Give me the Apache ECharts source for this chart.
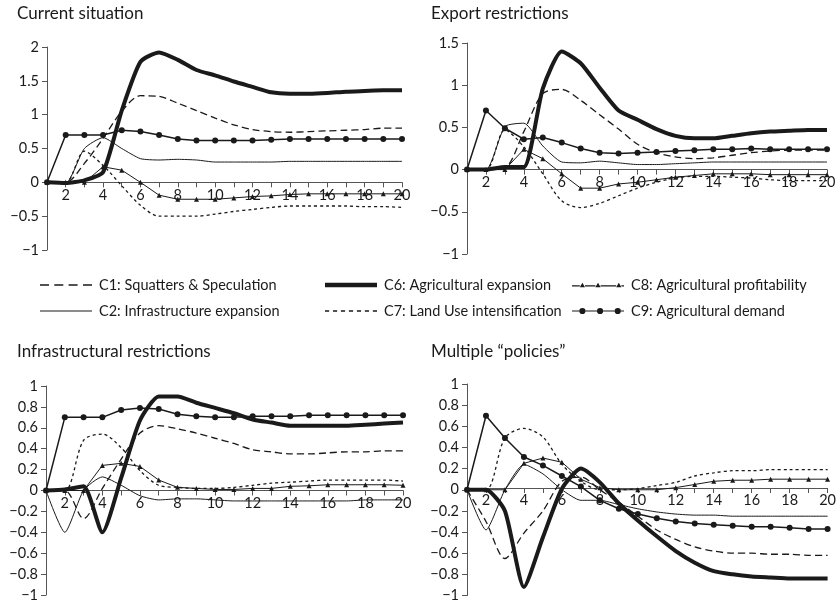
<!DOCTYPE html>
<html>
<head>
<meta charset="utf-8">
<script src="https://cdn.jsdelivr.net/npm/echarts@6/dist/echarts.min.js"></script>
<style>
  html, body { margin: 0; background: #fff; }
  #chart { width: 839px; height: 603px; }
</style>
</head>
<body>
<div id="chart"></div>
<script>
// time steps on the x axis
const steps = ['1', '2', '3', '4', '5', '6', '7', '8', '9', '10',
  '11', '12', '13', '14', '15', '16', '17', '18', '19', '20'];

// Current situation
const curC1 = [0, 0, 0.28, 0.65, 1.05, 1.28, 1.27, 1.17, 1.06, 0.95, 0.85, 0.78, 0.75, 0.74, 0.75, 0.76, 0.77, 0.78, 0.8, 0.8];
const curC2 = [0, -0.01, 0.5, 0.66, 0.5, 0.35, 0.33, 0.34, 0.33, 0.3, 0.3, 0.3, 0.3, 0.31, 0.31, 0.31, 0.31, 0.31, 0.31, 0.31];
const curC6 = [0, -0.01, 0.03, 0.15, 1.06, 1.78, 1.92, 1.81, 1.66, 1.58, 1.49, 1.41, 1.33, 1.31, 1.31, 1.32, 1.34, 1.35, 1.36, 1.36];
const curC7 = [0, 0, 0.46, 0.25, -0.05, -0.34, -0.5, -0.5, -0.5, -0.47, -0.43, -0.4, -0.37, -0.35, -0.35, -0.35, -0.35, -0.36, -0.36, -0.37];
const curC8 = [0, 0, 0, 0.23, 0.18, 0, -0.19, -0.25, -0.25, -0.25, -0.23, -0.21, -0.2, -0.18, -0.17, -0.17, -0.17, -0.17, -0.17, -0.17];
const curC9 = [0, 0.7, 0.7, 0.7, 0.77, 0.75, 0.7, 0.64, 0.62, 0.62, 0.62, 0.62, 0.63, 0.64, 0.64, 0.64, 0.64, 0.64, 0.64, 0.64];

// Export restrictions
const expC1 = [0, 0, 0.02, 0.45, 0.9, 0.95, 0.82, 0.65, 0.48, 0.3, 0.2, 0.15, 0.13, 0.14, 0.17, 0.2, 0.22, 0.23, 0.23, 0.23];
const expC2 = [0, 0, 0.51, 0.55, 0.28, 0.09, 0.08, 0.1, 0.08, 0.06, 0.06, 0.07, 0.08, 0.09, 0.09, 0.09, 0.09, 0.09, 0.09, 0.09];
const expC6 = [0, 0, 0.03, 0.03, 0.96, 1.4, 1.26, 0.97, 0.7, 0.59, 0.48, 0.4, 0.37, 0.37, 0.4, 0.43, 0.45, 0.46, 0.47, 0.47];
const expC7 = [0, 0, 0.47, 0.27, -0.05, -0.37, -0.45, -0.4, -0.31, -0.22, -0.15, -0.1, -0.08, -0.08, -0.09, -0.1, -0.12, -0.13, -0.13, -0.13];
const expC8 = [0, 0, 0, 0.24, 0.13, -0.05, -0.22, -0.22, -0.17, -0.15, -0.12, -0.09, -0.07, -0.05, -0.05, -0.05, -0.06, -0.06, -0.06, -0.06];
const expC9 = [0, 0.7, 0.49, 0.36, 0.38, 0.32, 0.25, 0.2, 0.19, 0.2, 0.21, 0.22, 0.23, 0.24, 0.24, 0.25, 0.24, 0.24, 0.24, 0.24];

// Infrastructural restrictions
const infC1 = [0, 0, -0.27, 0.02, 0.3, 0.55, 0.62, 0.59, 0.55, 0.5, 0.45, 0.39, 0.37, 0.35, 0.35, 0.36, 0.37, 0.37, 0.38, 0.38];
const infC2 = [0, -0.4, 0, 0.13, 0.05, -0.05, -0.09, -0.08, -0.08, -0.09, -0.1, -0.1, -0.1, -0.1, -0.1, -0.1, -0.1, -0.09, -0.09, -0.09];
const infC6 = [0, 0.01, 0.04, -0.4, 0.12, 0.67, 0.9, 0.9, 0.84, 0.79, 0.74, 0.68, 0.65, 0.62, 0.62, 0.62, 0.62, 0.63, 0.64, 0.65];
const infC7 = [0, 0, 0.48, 0.54, 0.41, 0.19, 0.05, 0.03, 0.02, 0.02, 0.03, 0.05, 0.07, 0.08, 0.09, 0.1, 0.1, 0.1, 0.1, 0.09];
const infC8 = [0, 0, 0, 0.24, 0.26, 0.23, 0.1, 0.03, 0.02, 0.01, 0.01, 0.02, 0.02, 0.04, 0.045, 0.055, 0.055, 0.055, 0.055, 0.05];
const infC9 = [0, 0.7, 0.7, 0.7, 0.77, 0.79, 0.78, 0.73, 0.71, 0.7, 0.7, 0.71, 0.71, 0.71, 0.72, 0.72, 0.72, 0.72, 0.72, 0.72];

// Multiple "policies"
const mulC1 = [0, -0.3, -0.65, -0.41, -0.2, 0.08, 0.12, 0, -0.12, -0.25, -0.38, -0.47, -0.54, -0.58, -0.6, -0.6, -0.61, -0.61, -0.62, -0.62];
const mulC2 = [0, -0.38, 0, 0.24, 0.15, 0, -0.1, -0.1, -0.14, -0.18, -0.21, -0.23, -0.24, -0.24, -0.25, -0.25, -0.25, -0.25, -0.25, -0.25];
const mulC6 = [0, 0, -0.2, -0.92, -0.45, 0.01, 0.2, 0.07, -0.13, -0.29, -0.44, -0.58, -0.69, -0.77, -0.8, -0.82, -0.83, -0.84, -0.84, -0.84];
const mulC7 = [0, 0, 0.49, 0.58, 0.5, 0.24, 0.08, 0, 0, 0.01, 0.04, 0.07, 0.13, 0.16, 0.18, 0.18, 0.19, 0.19, 0.19, 0.19];
const mulC8 = [0, 0, 0, 0.25, 0.3, 0.26, 0.1, 0.02, 0, 0, 0, 0.02, 0.05, 0.08, 0.09, 0.09, 0.1, 0.1, 0.1, 0.1];
const mulC9 = [0, 0.7, 0.49, 0.31, 0.23, 0.13, 0.03, -0.1, -0.18, -0.23, -0.27, -0.3, -0.32, -0.33, -0.34, -0.35, -0.35, -0.36, -0.37, -0.37];

// y axis ranges: [min, max, interval]
const curRange = [-1, 2, 0.5];
const expRange = [-1, 1.5, 0.5];
const infRange = [-1, 1, 0.2];
const mulRange = [-1, 1, 0.2];

const panelTitles = ['Current situation', 'Export restrictions', 'Infrastructural restrictions', 'Multiple \u201cpolicies\u201d'];

const seriesNames = {
  C1: 'C1: Squatters & Speculation',
  C2: 'C2: Infrastructure expansion',
  C6: 'C6: Agricultural expansion',
  C7: 'C7: Land Use intensification',
  C8: 'C8: Agricultural profitability',
  C9: 'C9: Agricultural demand'
};

const panels = [
  { title: panelTitles[0], range: curRange, data: { C1: curC1, C2: curC2, C6: curC6, C7: curC7, C8: curC8, C9: curC9 } },
  { title: panelTitles[1], range: expRange, data: { C1: expC1, C2: expC2, C6: expC6, C7: expC7, C8: expC8, C9: expC9 } },
  { title: panelTitles[2], range: infRange, data: { C1: infC1, C2: infC2, C6: infC6, C7: infC7, C8: infC8, C9: infC9 } },
  { title: panelTitles[3], range: mulRange, data: { C1: mulC1, C2: mulC2, C6: mulC6, C7: mulC7, C8: mulC8, C9: mulC9 } }
];

// layout of each panel (pixel box of the plot area)
const boxes = [
  { left: 47, top: 47, width: 355, height: 203, titleLeft: 17, titleTop: 5 },
  { left: 467, top: 43, width: 360, height: 211, titleLeft: 431, titleTop: 5 },
  { left: 46, top: 386, width: 357, height: 209, titleLeft: 17, titleTop: 343 },
  { left: 467, top: 384, width: 361, height: 215, titleLeft: 431, titleTop: 343 }
];

const INK = '#1a1a1a';
const FONT = 'Lato, "Open Sans", sans-serif';

const lineLook = {
  C1: { lineStyle: { width: 1.3, type: [7, 4] }, symbol: 'none', smooth: 0.3 },
  C2: { lineStyle: { width: 1 }, symbol: 'none', smooth: 0.2 },
  C6: { lineStyle: { width: 4 }, symbol: 'none', smooth: 0.2 },
  C7: { lineStyle: { width: 1.3, type: [3, 3] }, symbol: 'none', smooth: 0.3 },
  C8: { lineStyle: { width: 1 }, symbol: 'triangle', symbolSize: 5 },
  C9: { lineStyle: { width: 1.5 }, symbol: 'circle', symbolSize: 6 }
};

// legend glyphs drawn as filled paths so dash patterns and markers match
const legendIcons = {
  C1: 'path://M0,0h9v1.4h-9z M14.3,0h9v1.4h-9z M28.6,0h9v1.4h-9z M43,0h9v1.4h-9z',
  C2: 'path://M0,0h52v1.1h-52z',
  C6: 'path://M0,0h52v4.5h-52z',
  C7: 'path://M0,0h4v1.3h-4z M7.7,0h4v1.3h-4z M15.3,0h4v1.3h-4z M23,0h4v1.3h-4z M30.7,0h4v1.3h-4z M38.3,0h4v1.3h-4z M46,0h4v1.3h-4z',
  C8: 'path://M0,2.6h7.5v1h-7.5z M7.5,4.5L10,0L12.5,4.5z M12.5,2.6h10v1h-10z M22.5,4.5L25,0L27.5,4.5z M27.5,2.6h15v1h-15z M42.5,4.5L45,0L47.5,4.5z M47.5,2.6h2.5v1h-2.5z',
  C9: 'path://M0,2.4h7v1.2h-7z M7,3a3,3 0 1,0 6,0a3,3 0 1,0 -6,0z M13,2.4h11v1.2h-11z M24,3a3,3 0 1,0 6,0a3,3 0 1,0 -6,0z M30,2.4h11v1.2h-11z M41,3a3,3 0 1,0 6,0a3,3 0 1,0 -6,0z M47,2.4h3v1.2h-3z'
};

const fmtTick = v => {
  const r = Math.round(v * 10) / 10;
  return String(r).replace('-', '\u2212');
};

const chart = echarts.init(document.getElementById('chart'), null, { renderer: 'canvas' });

const grid = boxes.map(b => ({ left: b.left, top: b.top, width: b.width, height: b.height, containLabel: false }));

const title = panels.map((p, i) => ({
  text: p.title,
  left: boxes[i].titleLeft,
  top: boxes[i].titleTop,
  padding: 0,
  textStyle: { fontFamily: FONT, fontSize: 17, fontWeight: 'normal', color: INK }
}));

// x axis sits on the zero line: shift it up from the grid bottom
const xAxis = panels.map((p, i) => ({
  type: 'category',
  gridIndex: i,
  data: steps,
  boundaryGap: false,
  offset: -boxes[i].height * (0 - p.range[0]) / (p.range[1] - p.range[0]),
  axisLine: { onZero: false, lineStyle: { color: '#555', width: 1 } },
  axisTick: { show: true, interval: 0, length: 5, lineStyle: { color: '#555' } },
  axisLabel: {
    interval: (idx) => idx % 2 === 1,
    margin: 5,
    fontFamily: FONT, fontSize: 14.5, color: INK
  },
  splitLine: { show: false }
}));

const yAxis = panels.map((p, i) => ({
  type: 'value',
  gridIndex: i,
  min: p.range[0],
  max: p.range[1],
  interval: p.range[2],
  axisLine: { show: true, lineStyle: { color: '#555', width: 1 } },
  axisTick: { show: true, length: 5, lineStyle: { color: '#555' } },
  axisLabel: { formatter: fmtTick, margin: 8, fontFamily: FONT, fontSize: 14.5, color: INK },
  splitLine: { show: false }
}));

const series = [];
panels.forEach((p, i) => {
  ['C1', 'C2', 'C6', 'C7', 'C8', 'C9'].forEach(key => {
    const look = lineLook[key];
    series.push({
      name: seriesNames[key],
      type: 'line',
      xAxisIndex: i,
      yAxisIndex: i,
      data: p.data[key],
      symbol: look.symbol,
      symbolSize: look.symbolSize || 0,
      smooth: look.smooth || false,
      showSymbol: look.symbol !== 'none',
      lineStyle: Object.assign({ color: INK }, look.lineStyle),
      itemStyle: { color: INK },
      animation: false,
      z: key === 'C6' ? 3 : 2
    });
  });
});

const legendBase = {
  orient: 'vertical',
  top: 277,
  padding: 0,
  itemWidth: 52,
  itemHeight: 10,
  itemGap: 10,
  itemStyle: { borderWidth: 0 },
  textStyle: { fontFamily: FONT, fontSize: 14.5, lineHeight: 16, color: INK, padding: [0, 0, 0, 2] },
  selectedMode: false
};

const legendItem = key => ({ name: seriesNames[key], icon: legendIcons[key] });

chart.setOption({
  backgroundColor: '#fff',
  animation: false,
  title,
  grid,
  xAxis,
  yAxis,
  legend: [
    Object.assign({}, legendBase, { left: 40, data: [legendItem('C1'), legendItem('C2')] }),
    Object.assign({}, legendBase, { left: 325, data: [legendItem('C6'), legendItem('C7')] }),
    Object.assign({}, legendBase, { left: 572, data: [legendItem('C8'), legendItem('C9')] })
  ],
  series
});
</script>
</body>
</html>
